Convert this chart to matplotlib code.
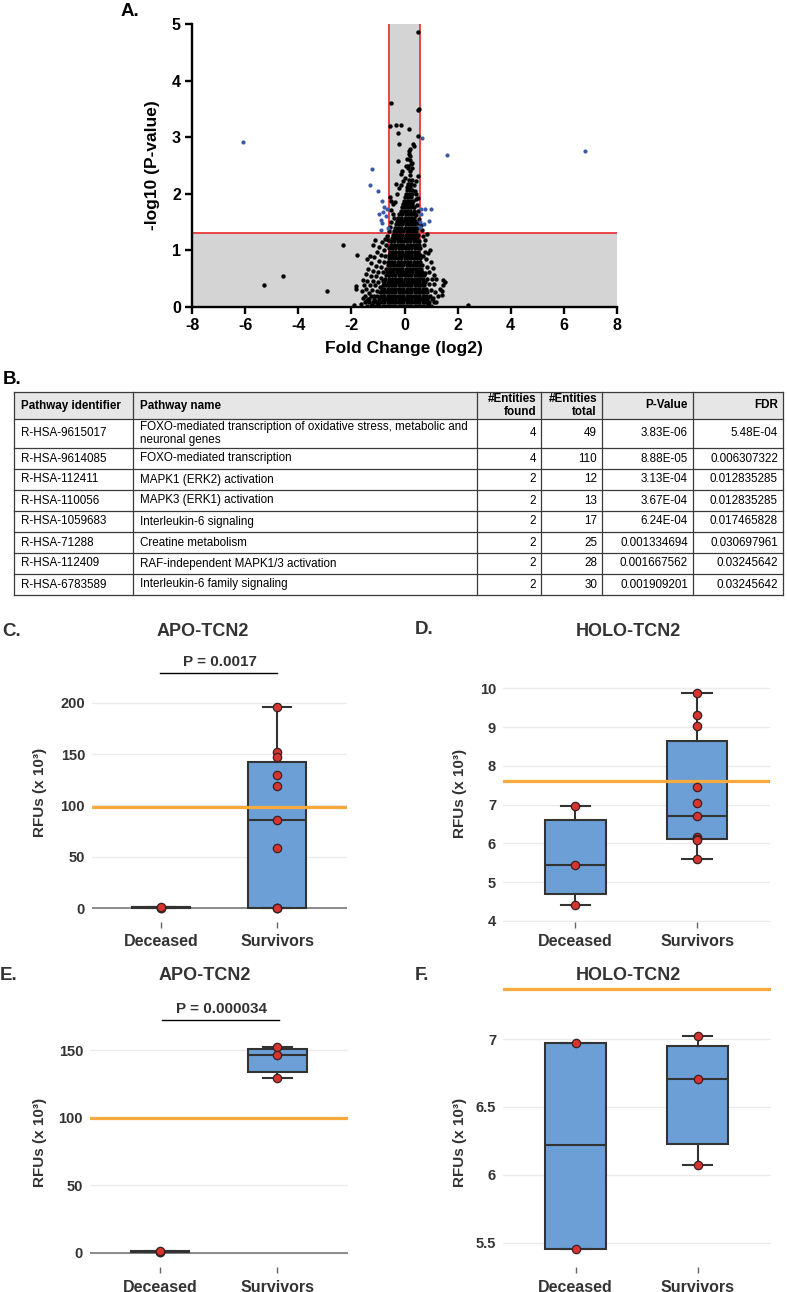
import matplotlib
matplotlib.use('Agg')
import matplotlib.pyplot as plt
from matplotlib.patches import Rectangle

W, H = 787, 1292
plt.rcParams['font.family'] = ['Liberation Sans', 'DejaVu Sans']
plt.rcParams['axes.unicode_minus'] = False

# ---------------- Panel A data (volcano) ----------------
fc_cut = 0.585       # log2(1.5)
sig_logp = 1.301     # -log10(0.05)
volcano_xticks = [-8, -6, -4, -2, 0, 2, 4, 6, 8]
volcano_yticks = [0, 1, 2, 3, 4, 5]

core_rows = {
    0.02: [-1.42, -1.25, -1.1, -0.95, -0.82, -0.7, -0.58, -0.46, -0.34, -0.22, -0.1, 0.02, 0.14, 0.26, 0.38, 0.5, 0.62, 0.74, 0.88, 1.0],
    0.08: [-1.5, -1.32, -1.18, -1.02, -0.88, -0.76, -0.64, -0.52, -0.4, -0.28, -0.16, -0.04, 0.08, 0.2, 0.32, 0.44, 0.56, 0.68, 0.8, 0.94, 1.1],
    0.14: [-1.36, -1.14, -0.96, -0.8, -0.7, -0.58, -0.46, -0.34, -0.22, -0.1, 0.02, 0.14, 0.26, 0.38, 0.5, 0.62, 0.74, 0.86, 1.02],
    0.20: [-1.28, -1.05, -0.88, -0.76, -0.64, -0.52, -0.4, -0.28, -0.16, -0.04, 0.08, 0.2, 0.32, 0.44, 0.56, 0.68, 0.8, 0.95],
    0.26: [-0.92, -0.8, -0.7, -0.58, -0.46, -0.34, -0.22, -0.1, 0.02, 0.14, 0.26, 0.38, 0.5, 0.62, 0.74, 0.86],
    0.32: [-0.86, -0.76, -0.64, -0.52, -0.4, -0.28, -0.16, -0.04, 0.08, 0.2, 0.32, 0.44, 0.56, 0.68, 0.8],
    0.38: [-0.8, -0.7, -0.58, -0.46, -0.34, -0.22, -0.1, 0.02, 0.14, 0.26, 0.38, 0.5, 0.62, 0.74],
    0.44: [-0.76, -0.64, -0.52, -0.4, -0.28, -0.16, -0.04, 0.08, 0.2, 0.32, 0.44, 0.56, 0.68, 0.78],
    0.50: [-0.72, -0.6, -0.48, -0.36, -0.24, -0.12, 0.0, 0.12, 0.24, 0.36, 0.48, 0.6, 0.7],
    0.56: [-0.7, -0.58, -0.46, -0.34, -0.22, -0.1, 0.02, 0.14, 0.26, 0.38, 0.5, 0.62, 0.72],
    0.62: [-0.66, -0.54, -0.42, -0.3, -0.18, -0.06, 0.06, 0.18, 0.3, 0.42, 0.54, 0.65],
    0.68: [-0.68, -0.56, -0.44, -0.32, -0.2, -0.08, 0.04, 0.16, 0.28, 0.4, 0.52, 0.63],
    0.74: [-0.64, -0.52, -0.4, -0.28, -0.16, -0.04, 0.08, 0.2, 0.32, 0.44, 0.56, 0.66],
    0.80: [-0.62, -0.5, -0.38, -0.26, -0.14, -0.02, 0.1, 0.22, 0.34, 0.46, 0.58],
    0.86: [-0.6, -0.48, -0.36, -0.24, -0.12, 0.0, 0.12, 0.24, 0.36, 0.48, 0.6],
    0.92: [-0.58, -0.46, -0.34, -0.22, -0.1, 0.02, 0.14, 0.26, 0.38, 0.5, 0.6],
    0.98: [-0.56, -0.44, -0.32, -0.2, -0.08, 0.04, 0.16, 0.28, 0.4, 0.52],
    1.04: [-0.58, -0.46, -0.34, -0.22, -0.1, 0.02, 0.14, 0.26, 0.38, 0.5, 0.58],
    1.10: [-0.52, -0.4, -0.28, -0.16, -0.04, 0.08, 0.2, 0.32, 0.44, 0.55],
    1.16: [-0.5, -0.38, -0.26, -0.14, -0.02, 0.1, 0.22, 0.34, 0.46, 0.56],
    1.22: [-0.48, -0.36, -0.24, -0.12, 0.0, 0.12, 0.24, 0.36, 0.48],
    1.28: [-0.44, -0.32, -0.2, -0.08, 0.04, 0.16, 0.28, 0.4, 0.5],
    1.34: [-0.4, -0.28, -0.16, -0.04, 0.08, 0.2, 0.32, 0.44],
    1.40: [-0.36, -0.24, -0.12, 0.0, 0.12, 0.24, 0.36, 0.46],
    1.46: [-0.32, -0.2, -0.08, 0.04, 0.16, 0.28, 0.4],
    1.52: [-0.3, -0.18, -0.06, 0.06, 0.18, 0.3, 0.4],
    1.58: [-0.24, -0.12, 0.0, 0.12, 0.24, 0.36],
    1.64: [-0.2, -0.08, 0.04, 0.16, 0.28, 0.38],
    1.70: [-0.14, -0.02, 0.1, 0.22, 0.34],
    1.76: [-0.1, 0.02, 0.14, 0.26, 0.36],
    1.82: [-0.06, 0.06, 0.18, 0.3],
    1.88: [-0.02, 0.1, 0.22, 0.32],
    1.94: [0.02, 0.14, 0.26],
    2.00: [0.04, 0.16, 0.28],
    2.06: [0.08, 0.2, 0.3],
    2.12: [0.1, 0.22],
    2.18: [0.12, 0.24],
    2.24: [0.16],
}

left_scatter = [(-1.62, 0.06), (-1.58, 0.16), (-1.6, 0.28), (-1.52, 0.38), (-1.57, 0.48), (-1.48, 0.2),
                (-1.45, 0.1), (-1.44, 0.32), (-1.4, 0.46), (-1.46, 0.58), (-1.38, 0.68), (-1.35, 0.24),
                (-1.32, 0.14), (-1.3, 0.38), (-1.28, 0.55), (-1.26, 0.78), (-1.22, 0.3), (-1.2, 0.46),
                (-1.18, 0.64), (-1.16, 0.88), (-1.14, 0.2), (-1.12, 0.1), (-1.1, 0.38), (-1.08, 0.54),
                (-1.06, 0.72), (-1.04, 0.98), (-1.02, 0.28), (-1.0, 0.44), (-0.98, 0.62), (-0.96, 0.82),
                (-0.95, 1.06), (-0.94, 0.18), (-0.92, 0.36), (-0.9, 0.52), (-0.88, 0.7), (-0.87, 0.92),
                (-0.86, 1.14), (-0.84, 0.28), (-0.82, 0.46), (-0.8, 0.62), (-0.78, 0.8), (-0.76, 1.0),
                (-0.74, 1.2), (-0.72, 0.9), (-0.7, 1.1), (-1.11, 1.18), (-1.17, 1.1), (-0.66, 1.26),
                (-0.62, 1.18), (-1.3, 0.9), (-1.42, 0.84), (-1.24, 0.04), (-1.0, 0.06)]

right_scatter = [(0.7, 0.9), (0.72, 1.1), (0.7, 1.25), (0.76, 0.98), (0.78, 0.6), (0.8, 0.84), (0.82, 0.3),
                 (0.84, 0.7), (0.86, 0.5), (0.88, 0.96), (0.9, 0.18), (0.92, 0.4), (0.94, 0.62), (0.96, 1.0),
                 (0.98, 0.8), (1.0, 0.3), (1.02, 0.5), (1.06, 0.16), (1.09, 0.69), (1.1, 0.4), (1.14, 0.26),
                 (1.18, 0.08), (1.2, 0.5), (1.26, 0.2), (1.34, 0.31), (1.4, 0.28), (1.4, 0.21), (1.46, 0.48),
                 (1.46, 0.39), (1.52, 0.44), (0.83, 1.29), (0.76, 1.18), (0.66, 1.36), (0.62, 1.45),
                 (0.88, 0.06), (1.12, 0.56)]

tail_points = [(-0.55, 1.95), (-0.5, 1.88), (-0.42, 1.82), (-0.36, 1.85), (-0.28, 2.0), (-0.2, 2.1),
               (-0.12, 2.15), (-0.5, 1.72), (-0.45, 1.65), (-0.4, 1.58), (-0.52, 1.5), (-0.55, 1.42),
               (-0.58, 1.35), (0.45, 2.0), (0.5, 1.92), (0.48, 1.8), (0.52, 1.7), (0.45, 1.62), (0.55, 1.55),
               (0.5, 1.48), (0.42, 1.9), (0.38, 2.05), (0.35, 2.15), (0.42, 2.22), (0.3, 2.25), (-0.05, 2.22),
               (0.0, 2.28), (-0.32, 2.17), (-0.1, 2.4), (-0.13, 2.35), (0.19, 2.4), (0.19, 2.34), (0.5, 2.32),
               (0.21, 2.6), (0.25, 2.52), (-0.25, 2.58), (0.08, 2.61), (0.17, 2.7), (0.21, 2.79), (0.31, 2.88),
               (0.35, 2.85), (-0.19, 2.88), (0.5, 3.03), (-0.24, 3.08), (0.17, 3.15), (-0.33, 3.22),
               (-0.14, 3.22), (-0.55, 3.19), (0.52, 3.48), (0.56, 3.5), (-0.52, 3.6), (0.52, 4.85),
               (0.12, 2.45), (0.15, 2.5), (0.05, 2.5), (0.3, 2.45), (0.28, 2.55), (0.22, 2.66), (0.18, 2.75)]

outlier_points = [(-2.3, 1.1), (-1.8, 0.91), (-4.59, 0.55), (-5.29, 0.38), (-2.9, 0.28), (-1.82, 0.37),
                  (-1.82, 0.32), (-1.9, 0.04), (2.4, 0.03)]

blue_points = [(-6.08, 2.92), (6.8, 2.76), (1.6, 2.69), (0.64, 2.99), (-1.21, 2.43), (-1.3, 2.16),
               (-0.98, 2.05), (-0.86, 1.88), (-0.79, 1.76), (-0.67, 1.73), (-0.97, 1.64), (-0.82, 1.67),
               (-0.69, 1.6), (-0.89, 1.54), (-0.86, 1.49), (-0.89, 1.36), (-0.64, 1.39), (0.62, 1.74),
               (0.77, 1.74), (1.0, 1.74), (0.62, 1.64), (0.58, 1.51), (0.73, 1.47), (0.92, 1.52), (0.6, 1.42)]

# ---------------- Panel B data (table) ----------------
tbl_header = ['Pathway identifier', 'Pathway name', '#Entities\nfound', '#Entities\ntotal', 'P-Value', 'FDR']
tbl_ids = ['R-HSA-9615017', 'R-HSA-9614085', 'R-HSA-112411', 'R-HSA-110056',
           'R-HSA-1059683', 'R-HSA-71288', 'R-HSA-112409', 'R-HSA-6783589']
tbl_names = ['FOXO-mediated transcription of oxidative stress, metabolic and\nneuronal genes',
             'FOXO-mediated transcription', 'MAPK1 (ERK2) activation', 'MAPK3 (ERK1) activation',
             'Interleukin-6 signaling', 'Creatine metabolism', 'RAF-independent MAPK1/3 activation',
             'Interleukin-6 family signaling']
tbl_found = [4, 4, 2, 2, 2, 2, 2, 2]
tbl_total = [49, 110, 12, 13, 17, 25, 28, 30]
tbl_pval = ['3.83E-06', '8.88E-05', '3.13E-04', '3.67E-04', '6.24E-04',
            '0.001334694', '0.001667562', '0.001909201']
tbl_fdr = ['5.48E-04', '0.006307322', '0.012835285', '0.012835285', '0.017465828',
           '0.030697961', '0.03245642', '0.03245642']

# ---------------- Panels C-F data (RFUs x 10^3) ----------------
groups = ['Deceased', 'Survivors']

c_stats = [dict(med=0.6, q1=0.2, q3=1.1, whislo=0.1, whishi=1.2),
           dict(med=85.7, q1=0.4, q3=142.2, whislo=0.3, whishi=196.1)]
c_dec = [0.3, 0.5, 0.7]
c_sur = [196.1, 152.3, 146.8, 129.6, 119.2, 85.7, 58.7, 0.3, 0.4, 0.5]
c_thr = 98.1
c_p = 'P = 0.0017'

d_stats = [dict(med=5.455, q1=4.69, q3=6.6, whislo=4.415, whishi=6.97),
           dict(med=6.71, q1=6.11, q3=8.65, whislo=5.59, whishi=9.89)]
d_dec = [6.97, 5.455, 4.415]
d_sur = [9.89, 9.30, 9.04, 7.45, 7.03, 6.71, 6.17, 6.12, 6.08, 5.59]
d_thr = 7.61

e_stats = [dict(med=0.8, q1=0.4, q3=1.2, whislo=0.3, whishi=1.3),
           dict(med=146.7, q1=133.8, q3=150.7, whislo=129.6, whishi=152.1)]
e_dec = [0.6, 0.8, 1.0]
e_sur = [152.1, 146.7, 129.8]
e_thr = 99.5
e_p = 'P = 0.000034'

f_stats = [dict(med=6.217, q1=5.454, q3=6.97, whislo=5.454, whishi=6.97),
           dict(med=6.707, q1=6.23, q3=6.946, whislo=6.07, whishi=7.022)]
f_dec = [6.97, 5.455]
f_sur = [7.022, 6.707, 6.07]
f_thr = 7.366

# ---------------- Figure ----------------
fig = plt.figure(figsize=(W / 100, H / 100), dpi=100)


def add_ax(l, t, r, b):
    return fig.add_axes([l / W, 1 - b / H, (r - l) / W, (b - t) / H])


ov = fig.add_axes([0, 0, 1, 1])
ov.set_xlim(0, W)
ov.set_ylim(H, 0)
ov.axis('off')

TXT = '#333333'

# ---- Panel A ----
axA = add_ax(192, 24, 617, 307)
axA.set_xlim(-8, 8)
axA.set_ylim(0, 5)
axA.axhspan(0, sig_logp, color='#d4d4d4', lw=0, zorder=0)
axA.axvspan(-fc_cut, fc_cut, color='#d4d4d4', lw=0, zorder=0)
red = '#e8393c'
axA.axhline(sig_logp, color=red, lw=1.3, zorder=1)
axA.axvline(-fc_cut, color=red, lw=1.3, zorder=1)
axA.axvline(fc_cut, color=red, lw=1.3, zorder=1)

bx, by = [], []
for yv, xs in core_rows.items():
    for xv in xs:
        bx.append(xv)
        by.append(yv)
for pts in (left_scatter, right_scatter, tail_points, outlier_points):
    for xv, yv in pts:
        bx.append(xv)
        by.append(yv)
axA.scatter(bx, by, s=10, c='black', linewidths=0, zorder=3)
axA.scatter([p[0] for p in blue_points], [p[1] for p in blue_points], s=9, c='#3d5aa8',
            linewidths=0, zorder=4)

for s in ('top', 'right'):
    axA.spines[s].set_visible(False)
for s in ('left', 'bottom'):
    axA.spines[s].set_linewidth(1.7)
axA.set_xticks(volcano_xticks)
axA.set_yticks(volcano_yticks)
axA.set_xticklabels([str(v) for v in volcano_xticks])
axA.set_yticklabels([str(v) for v in volcano_yticks])
axA.tick_params(direction='out', length=5, width=1.7, labelsize=11.5, pad=3)
for lab in axA.get_xticklabels() + axA.get_yticklabels():
    lab.set_fontweight('bold')

ov.text(152, 165, '-log10 (P-value)', rotation=90, ha='center', va='center', fontsize=12.5,
        fontweight='bold')
ov.text(404, 349, 'Fold Change (log2)', ha='center', va='center', fontsize=12.5, fontweight='bold')
ov.text(139, 12, 'A.', ha='right', va='center', fontsize=13.5, fontweight='bold')

# ---- Panel B (table) ----
ov.text(3, 380, 'B.', ha='left', va='center', fontsize=13.5, fontweight='bold')
col_edges = [14, 133, 477, 541, 602, 693, 783]
row_edges = [392, 419, 448, 469, 490, 511, 532, 553, 574, 595]
ov.add_patch(Rectangle((col_edges[0], row_edges[0]), col_edges[-1] - col_edges[0],
                       row_edges[1] - row_edges[0], facecolor='#e6e6e6', edgecolor='none', zorder=1))
for yv in row_edges:
    ov.plot([col_edges[0], col_edges[-1]], [yv, yv], color='#3a3a3a', lw=0.9, zorder=2)
for xv in col_edges:
    ov.plot([xv, xv], [row_edges[0], row_edges[-1]], color='#3a3a3a', lw=0.9, zorder=2)

left_cols = (0, 1)
TFS = 8.4
for j, h in enumerate(tbl_header):
    yc = (row_edges[0] + row_edges[1]) / 2
    if j in left_cols:
        ov.text(col_edges[j] + 7, yc, h, ha='left', va='center', fontsize=TFS, fontweight='bold',
                zorder=3)
    else:
        ov.text(col_edges[j + 1] - 5, yc, h, ha='right', va='center', fontsize=TFS,
                fontweight='bold', linespacing=1.05, multialignment='right', zorder=3)

for i in range(len(tbl_ids)):
    yc = (row_edges[i + 1] + row_edges[i + 2]) / 2
    cells = [tbl_ids[i], tbl_names[i], str(tbl_found[i]), str(tbl_total[i]), tbl_pval[i], tbl_fdr[i]]
    for j, c in enumerate(cells):
        if j in left_cols:
            ov.text(col_edges[j] + 7, yc, c, ha='left', va='center', fontsize=TFS, linespacing=1.1,
                    zorder=3)
        else:
            ov.text(col_edges[j + 1] - 5, yc, c, ha='right', va='center', fontsize=TFS, zorder=3)

# ---- Box panels ----
BOX_FACE = '#6b9fd6'
EDGE = '#333333'
ORANGE = '#f7a93b'


def box_panel(rect, ylim, yticks, ylabels, stats, dec, sur, thr, zero_line):
    ax = add_ax(*rect)
    ax.set_facecolor('none')
    ax.set_xlim(-0.595, 1.6)
    ax.set_ylim(*ylim)
    ax.set_yticks(yticks)
    ax.set_yticklabels(ylabels)
    ax.yaxis.grid(True, color='#ebebeb', lw=1.0)
    ax.set_axisbelow(True)
    for s in ax.spines.values():
        s.set_visible(False)
    if zero_line:
        ax.axhline(0, color='#8c8c8c', lw=1.4, zorder=1)
    ax.bxp(stats, positions=[0, 1], widths=0.5, capwidths=0.24, patch_artist=True,
           showfliers=False, manage_ticks=False, zorder=2,
           boxprops=dict(facecolor=BOX_FACE, edgecolor=EDGE, linewidth=1.5),
           medianprops=dict(color=EDGE, linewidth=1.5),
           whiskerprops=dict(color=EDGE, linewidth=1.5),
           capprops=dict(color=EDGE, linewidth=1.5))
    ax.axhline(thr, color=ORANGE, lw=2.3, zorder=3)
    ax.scatter([0] * len(dec), dec, s=36, c='#d8342f', edgecolors='#3a2020', linewidths=0.9, zorder=4)
    ax.scatter([1] * len(sur), sur, s=36, c='#d8342f', edgecolors='#3a2020', linewidths=0.9, zorder=4)
    ax.set_xticks([0, 1])
    ax.set_xticklabels(groups, fontsize=11.5, fontweight='bold', color=TXT)
    ax.tick_params(axis='x', length=4, width=1, color='#666666', pad=5)
    ax.tick_params(axis='y', length=0, pad=5, labelsize=10.5, labelcolor=TXT)
    for lab in ax.get_yticklabels():
        lab.set_fontweight('bold')
    return ax


# C
box_panel((92, 690, 347, 922), (-13.6, 212.4), [0, 50, 100, 150, 200],
          ['0', '50', '100', '150', '200'], c_stats, c_dec, c_sur, c_thr, True)
ov.text(2, 632, 'C.', ha='left', va='center', fontsize=13.5, fontweight='bold', color=TXT)
ov.text(203, 632, 'APO-TCN2', ha='center', va='center', fontsize=13, fontweight='bold', color=TXT)
ov.text(220, 662, c_p, ha='center', va='center', fontsize=11, fontweight='bold', color=TXT)
ov.plot([160, 277], [673, 673], color='black', lw=1.0)
ov.text(40, 792, 'RFUs (x 10³)', rotation=90, ha='center', va='center', fontsize=11,
        fontweight='bold', color=TXT)

# D
box_panel((503, 680, 770, 922), (3.974, 10.214), [4, 5, 6, 7, 8, 9, 10],
          ['4', '5', '6', '7', '8', '9', '10'], d_stats, d_dec, d_sur, d_thr, False)
ov.text(415, 630, 'D.', ha='left', va='center', fontsize=13.5, fontweight='bold', color=TXT)
ov.text(628, 631, 'HOLO-TCN2', ha='center', va='center', fontsize=13, fontweight='bold', color=TXT)
ov.text(460, 793, 'RFUs (x 10³)', rotation=90, ha='center', va='center', fontsize=11,
        fontweight='bold', color=TXT)

# E
box_panel((90, 1030, 348, 1267), (-10.6, 165.05), [0, 50, 100, 150],
          ['0', '50', '100', '150'], e_stats, e_dec, e_sur, e_thr, True)
ov.text(0, 975, 'E.', ha='left', va='center', fontsize=13.5, fontweight='bold', color=TXT)
ov.text(205, 975, 'APO-TCN2', ha='center', va='center', fontsize=13, fontweight='bold', color=TXT)
ov.text(221, 1009, e_p, ha='center', va='center', fontsize=11, fontweight='bold', color=TXT)
ov.plot([162, 279], [1020, 1020], color='black', lw=1.0)
ov.text(40, 1142, 'RFUs (x 10³)', rotation=90, ha='center', va='center', fontsize=11,
        fontweight='bold', color=TXT)

# F
box_panel((503, 985, 771, 1267), (5.321, 7.398), [5.5, 6, 6.5, 7],
          ['5.5', '6', '6.5', '7'], f_stats, f_dec, f_sur, f_thr, False)
ov.text(415, 975, 'F.', ha='left', va='center', fontsize=13.5, fontweight='bold', color=TXT)
ov.text(628, 975, 'HOLO-TCN2', ha='center', va='center', fontsize=13, fontweight='bold', color=TXT)
ov.text(460, 1142, 'RFUs (x 10³)', rotation=90, ha='center', va='center', fontsize=11,
        fontweight='bold', color=TXT)

fig.savefig('out.png', dpi=100)
